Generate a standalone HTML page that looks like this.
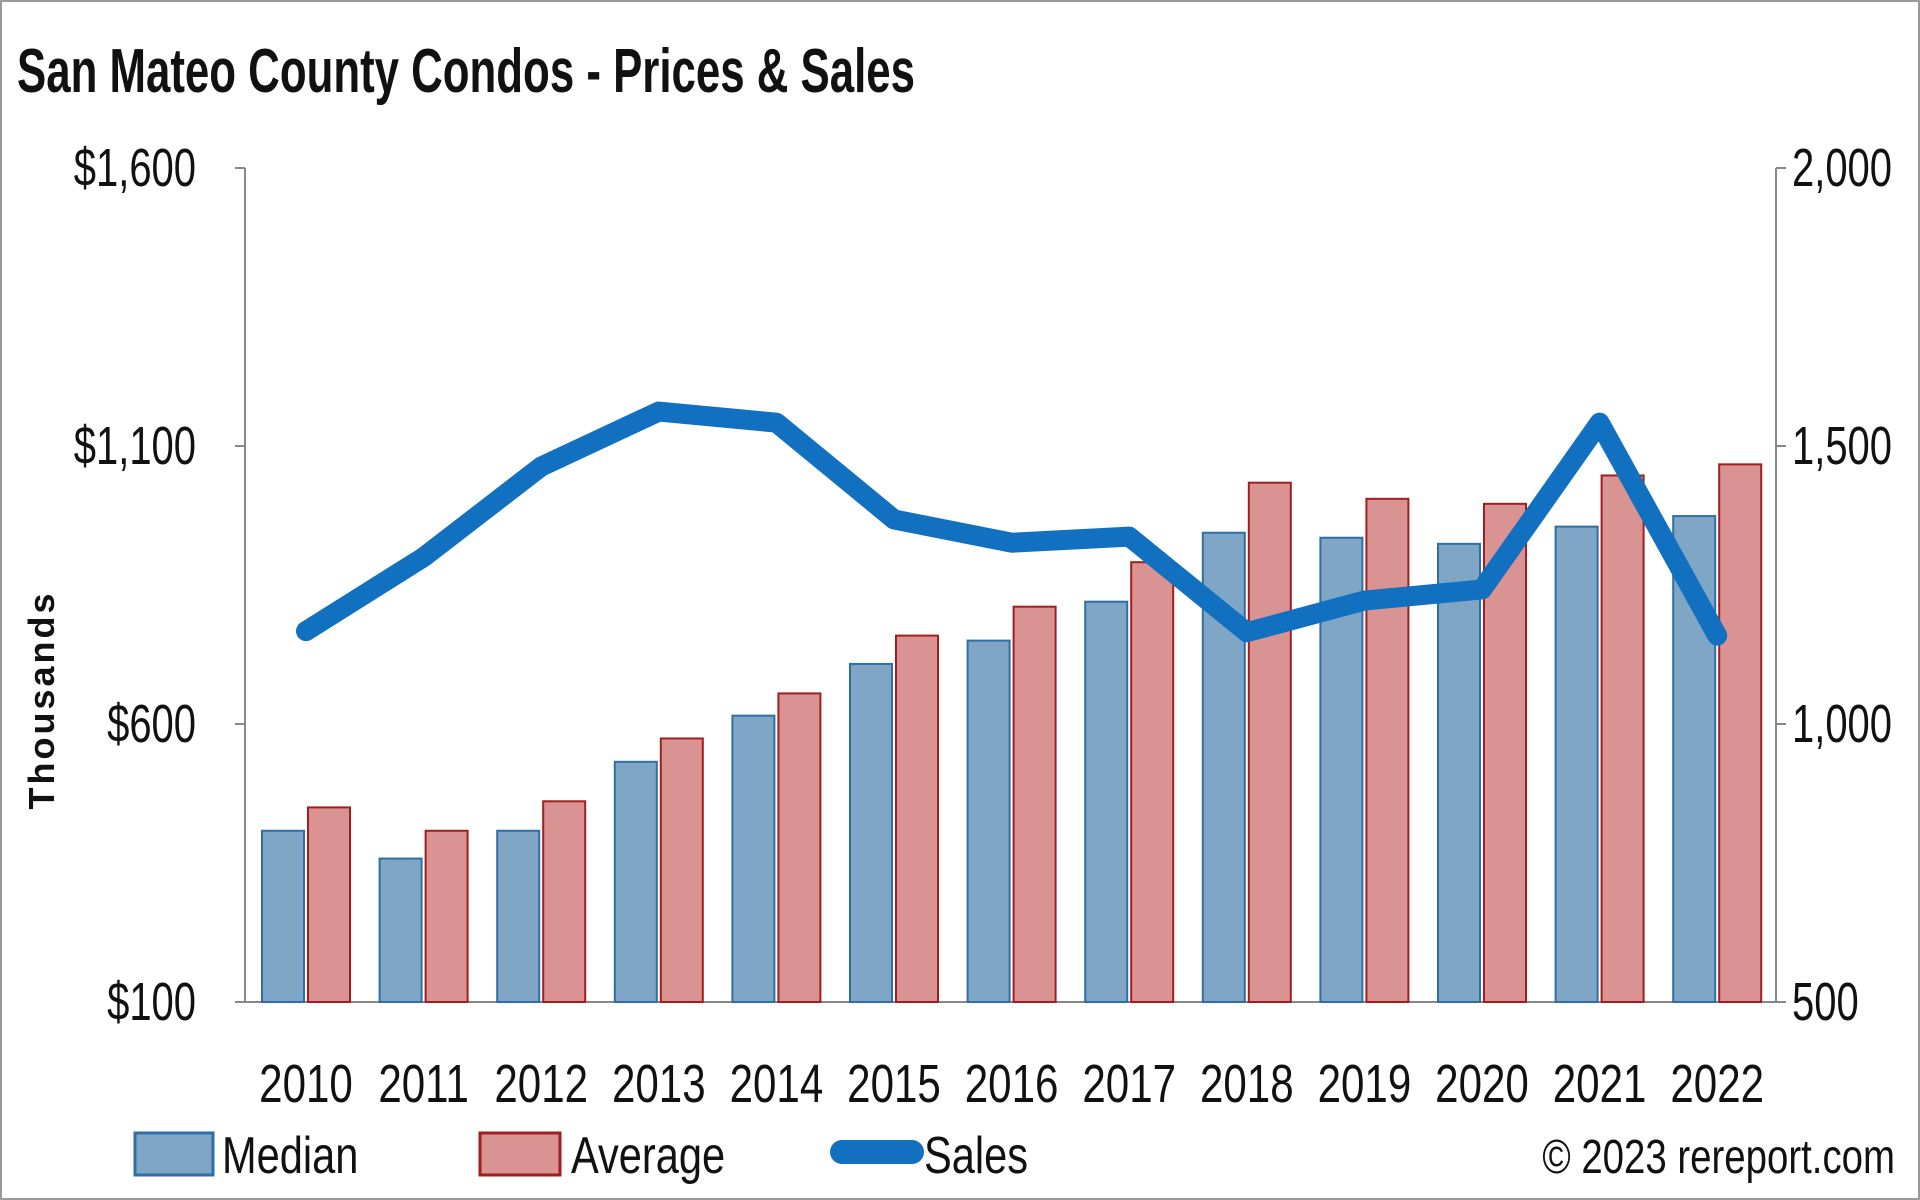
<!DOCTYPE html>
<html><head><meta charset="utf-8"><style>
html,body{margin:0;padding:0;background:#fff;}
svg{display:block;}
text{font-family:"Liberation Sans Narrow","Liberation Sans",sans-serif;}
</style></head><body>
<svg id="chart" width="1920" height="1200" viewBox="0 0 1920 1200" xmlns="http://www.w3.org/2000/svg">
<rect x="1" y="1" width="1918" height="1198" fill="#fff" stroke="#9a9a9a" stroke-width="2"/>
<text x="17" y="92" font-size="62" font-weight="bold" fill="#111" textLength="898" lengthAdjust="spacingAndGlyphs">San Mateo County Condos - Prices &amp; Sales</text>
<text transform="translate(54,700) rotate(-90)" text-anchor="middle" font-size="36" font-weight="bold" letter-spacing="3" style="font-family:'Liberation Sans',sans-serif" fill="#111">Thousands</text>
<g id="axes"></g>
<g id="bars"></g>
<g id="line"></g>
<g>
 <rect x="135" y="1133" width="78" height="42" fill="#7fa6c5" stroke="#2f6fa6" stroke-width="3"/>
 <text transform="translate(222,1173) scale(0.8,1)" font-size="52" fill="#111">Median</text>
 <rect x="480" y="1133" width="80" height="42" fill="#d99393" stroke="#a11e1e" stroke-width="3"/>
 <text transform="translate(571,1173) scale(0.8,1)" font-size="52" fill="#111">Average</text>
 <line x1="842" y1="1152" x2="912" y2="1152" stroke="#1170c0" stroke-width="24" stroke-linecap="round"/>
 <text transform="translate(924,1173) scale(0.8,1)" font-size="52" fill="#111">Sales</text>
</g>
<text transform="translate(1895,1173) scale(0.8,1)" text-anchor="end" font-size="48" fill="#111">© 2023 rereport.com</text>
</svg>
<script>
const years=["2010","2011","2012","2013","2014","2015","2016","2017","2018","2019","2020","2021","2022"];
const median=[408,358,408,532,615,708,750,820,944,935,924,955,974];
const average=[450,408,461,574,655,759,811,891,1034,1005,996,1047,1067];
const sales=[1167,1300,1463,1562,1542,1368,1326,1337,1165,1222,1242,1542,1159];
const leftTicks=[100,600,1100,1600];
const leftTickLabels=["$100","$600","$1,100","$1,600"];
const rightTicks=[500,1000,1500,2000];
const rightTickLabels=["500","1,000","1,500","2,000"];

const NS="http://www.w3.org/2000/svg";
const X0=245,X1=1776,Y0=1002,Y1=168;
function xc(i){return 306+i*117.6;}
function yL(v){return Y0-(v-100)/1500*(Y0-Y1);}
function yR(v){return Y0-(v-500)/1500*(Y0-Y1);}
function mk(tag,attrs,parent){const e=document.createElementNS(NS,tag);for(const k in attrs)e.setAttribute(k,attrs[k]);parent.appendChild(e);return e;}
const axes=document.getElementById('axes'),bars=document.getElementById('bars'),line=document.getElementById('line');

let e=mk('line',{x1:X0,y1:Y1,x2:X0,y2:Y0,stroke:'#888','stroke-width':2},axes);


e=mk('line',{x1:X1,y1:Y1,x2:X1,y2:Y0,stroke:'#888','stroke-width':2},axes);


e=mk('line',{x1:X0,y1:Y0,x2:X1,y2:Y0,stroke:'#888','stroke-width':2},axes);


leftTicks.forEach((v,i)=>{
 mk('line',{x1:X0-10,y1:yL(v),x2:X0,y2:yL(v),stroke:'#888','stroke-width':2},axes);
 const t=mk('text',{transform:'translate(196,'+(yL(v)+18)+') scale(0.74,1)','text-anchor':'end','font-size':54,fill:'#111'},axes);
 t.textContent=leftTickLabels[i];
 
 
});
rightTicks.forEach((v,i)=>{
 mk('line',{x1:X1,y1:yR(v),x2:X1+10,y2:yR(v),stroke:'#888','stroke-width':2},axes);
 const t=mk('text',{transform:'translate(1792,'+(yR(v)+18)+') scale(0.74,1)','text-anchor':'start','font-size':54,fill:'#111'},axes);
 t.textContent=rightTickLabels[i];
 
 
});
years.forEach((y,i)=>{
 const c=xc(i);
 const m=mk('rect',{x:c-44,y:yL(median[i]),width:42,height:Y0-yL(median[i]),fill:'#7fa6c5',stroke:'#2f6fa6','stroke-width':2},bars);
 
 
 const a=mk('rect',{x:c+2,y:yL(average[i]),width:42,height:Y0-yL(average[i]),fill:'#d99393',stroke:'#a11e1e','stroke-width':2},bars);
 
 
 const t=mk('text',{transform:'translate('+c+',1102) scale(0.78,1)','text-anchor':'middle','font-size':54,fill:'#111'},axes);
 t.textContent=y;
 
 
});
const pts=sales.map((v,i)=>xc(i)+','+yR(v)).join(' ');
const p=mk('polyline',{points:pts,fill:'none',stroke:'#1170c0','stroke-width':20,'stroke-linejoin':'round','stroke-linecap':'round'},line);


</script>
</body></html>
